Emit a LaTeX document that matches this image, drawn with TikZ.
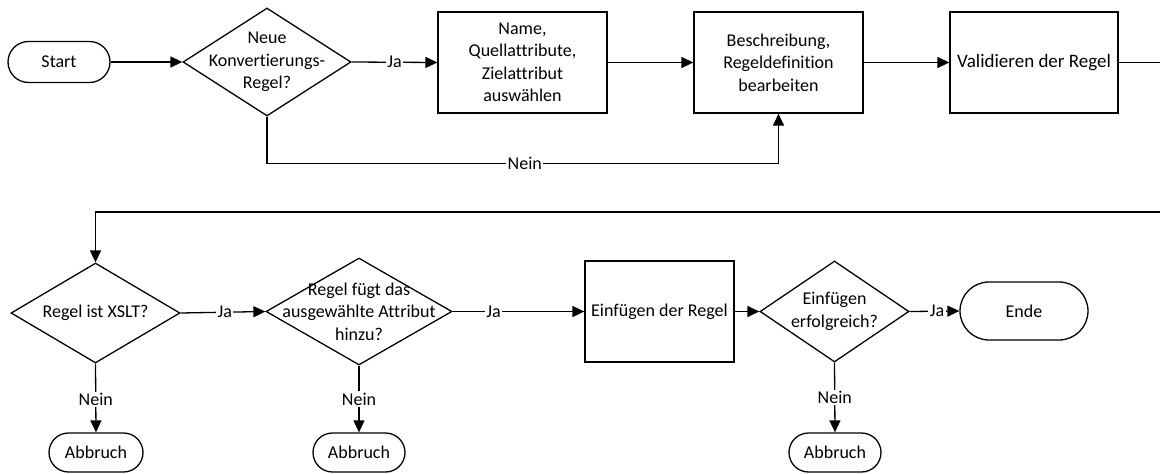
\documentclass[tikz,border=0pt]{standalone}
\usepackage{fontspec}
\setmainfont{Carlito}[Ligatures=NoCommon]
\usetikzlibrary{arrows.meta,shapes.geometric}
\begin{document}
\begin{tikzpicture}[x=1pt,y=-1pt,
  every node/.style={font=\fontsize{18}{22.5}\selectfont, text=black},
  base/.style={draw=black, line width=1.3pt, inner sep=0pt},
  proc/.style={base, rectangle, minimum width=169pt, minimum height=101pt, align=center},
  term/.style={base, rectangle, rounded corners=#1, minimum height=2*#1},
  dec/.style={base, diamond},
  flow/.style={line width=1.3pt, -{Triangle[length=12pt,width=11pt]}},
  lbl/.style={fill=white, inner sep=1.5pt}
]
\useasboundingbox (0,0) rectangle (1160,474);

% first row
\node[term=20.5pt, minimum width=102pt] (start) at (59,62) {Start};
\node[dec, minimum width=168pt, minimum height=108pt,
      label={[align=center]center:Neue\\Konvertierungs-\\Regel?}] (d1) at (267,62) {};
\node[proc] (b1) at (522.5,62.5) {Name,\\Quellattribute,\\Zielattribut\\auswählen};
\node[proc] (b2) at (778.5,62.5) {Beschreibung,\\Regeldefinition\\bearbeiten};
\node[proc, minimum width=168pt, font=\fontsize{19}{22.5}\selectfont] (b3) at (1034,62.5) {Validieren der Regel};

% second row
\node[dec, minimum width=169pt, minimum height=100pt,
      label={center:Regel ist XSLT?}] (d2) at (95.5,313) {};
\node[dec, minimum width=186pt, minimum height=107pt,
      label={[align=center]center:Regel fügt das\\ausgewählte Attribut\\hinzu?}] (d3) at (359,311.5) {};
\node[proc, minimum width=149pt] (b4) at (659.5,311.5) {Einfügen der Regel};
\node[dec, minimum width=149pt, minimum height=101pt,
      label={[align=center]center:Einfügen\\erfolgreich?}] (d4) at (834.5,311.5) {};
\node[term=29pt, minimum width=128pt] (ende) at (1024,311) {Ende};

% cancel terminals
\node[term=19.5pt, minimum width=94pt] (ab1) at (96,452.5) {Abbruch};
\node[term=19.5pt, minimum width=92pt] (ab2) at (359,452.5) {Abbruch};
\node[term=19.5pt, minimum width=92pt] (ab3) at (835,452.5) {Abbruch};

% wrap-around corner points
\coordinate (r1) at (1161,62.5);
\coordinate (r2) at (1161,212);

% connectors, first row
\draw[flow] (start) -- (d1);
\draw[flow] (d1.east) -- node[lbl, pos=0.5] {Ja} (b1.west);
\draw[flow] (b1) -- (b2);
\draw[flow] (b2) -- (b3);
\draw[flow] (d1.south) -- ++(0,47) -| node[lbl, pos=0.252] {Nein} (b2.south);

% connector to second row
\draw[flow] (b3.east) -- (r1) -- (r2) -| (d2.north);

% connectors, second row
\draw[flow] (d2.east) -- node[lbl, pos=0.52] {Ja} (d3.west);
\draw[flow] (d3.east) -- node[lbl, pos=0.31] {Ja} (b4.west);
\draw[flow] (b4) -- (d4);
\draw[flow] (d4.east) -- node[lbl, pos=0.55] {Ja} (ende.west);
\draw[flow] (d2.south) -- node[lbl, pos=0.52] {Nein} (ab1.north);
\draw[flow] (d3.south) -- node[lbl, pos=0.5] {Nein} (ab2.north);
\draw[flow] (d4.south) -- node[lbl, pos=0.5] {Nein} (ab3.north);
\end{tikzpicture}
\end{document}
